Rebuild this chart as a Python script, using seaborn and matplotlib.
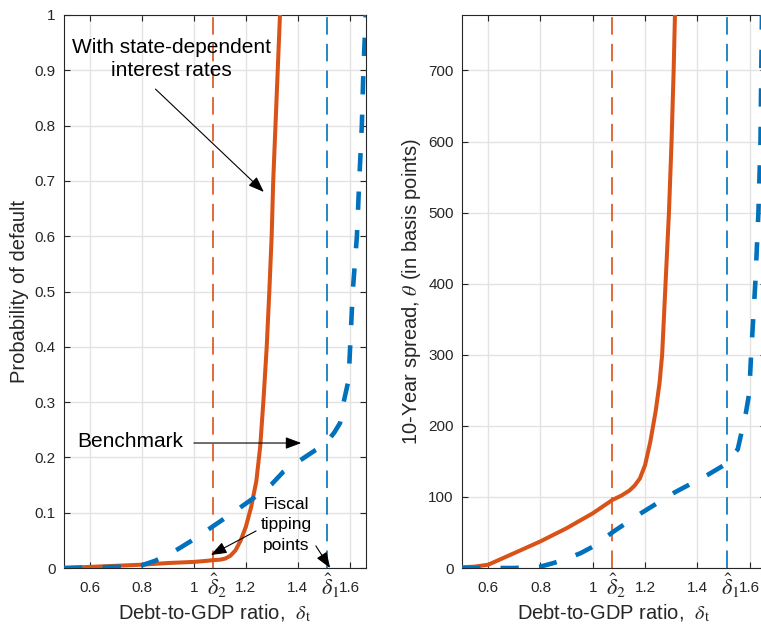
"""Probability of default and 10-year spread vs debt-to-GDP ratio."""

import matplotlib

matplotlib.use("Agg")
import matplotlib.pyplot as plt
import matplotlib.transforms as mtransforms
import seaborn as sns
from matplotlib.ticker import FuncFormatter

# Fiscal tipping points
DELTA_2 = 1.075
DELTA_1 = 1.512

# Left panel: probability of default
pd_state_x = [0.5, 0.6, 0.7, 0.8, 0.9, 1.0, 1.05, 1.08, 1.1, 1.12, 1.14, 1.16, 1.18,
              1.2, 1.22, 1.24, 1.255, 1.267, 1.28, 1.29, 1.299, 1.305, 1.318, 1.331, 1.336]
pd_state_y = [0.0, 0.002, 0.004, 0.006, 0.009, 0.011, 0.013, 0.0145, 0.015, 0.017,
              0.022, 0.032, 0.05, 0.075, 0.11, 0.157, 0.22, 0.30, 0.40, 0.50, 0.60,
              0.70, 0.85, 1.0, 1.05]

pd_bench_x = [0.5, 0.7, 0.8, 0.85, 0.9, 0.945, 1.0, 1.05, 1.1, 1.15, 1.228, 1.3, 1.344,
              1.4, 1.467, 1.5, 1.517, 1.54, 1.562, 1.575, 1.595, 1.601, 1.611, 1.627,
              1.636, 1.646, 1.652, 1.661, 1.668]
pd_bench_y = [0.0, 0.002, 0.005, 0.013, 0.024, 0.036, 0.052, 0.068, 0.084, 0.1, 0.126,
              0.152, 0.174, 0.192, 0.213, 0.222, 0.231, 0.245, 0.262, 0.298, 0.34, 0.4,
              0.5, 0.6, 0.7, 0.8, 0.9, 1.0, 1.03]

# Right panel: 10-year spread (basis points)
sp_state_x = [0.5, 0.55, 0.6, 0.7, 0.8, 0.9, 1.0, 1.076, 1.11, 1.14, 1.16, 1.18, 1.2,
              1.22, 1.24, 1.255, 1.265, 1.278, 1.291, 1.301, 1.309, 1.314, 1.316]
sp_state_y = [1, 2, 4.6, 21, 37.5, 56, 77, 96, 102, 109, 116, 126, 145, 178, 220, 260,
              300, 400, 500, 600, 700, 778, 800]

sp_bench_x = [0.5, 0.7, 0.8, 0.85, 0.9, 0.954, 1.0, 1.082, 1.184, 1.311, 1.439, 1.503,
              1.554, 1.585, 1.598, 1.605, 1.621, 1.633, 1.641, 1.644, 1.647]
sp_bench_y = [0, 0, 2, 7, 13, 21, 30, 52, 77, 106, 131, 145, 167, 218, 246, 300, 400,
              500, 600, 700, 790]

x_ticks = [0.6, 0.8, 1.0, 1.2, 1.4, 1.6]

ORANGE = "#D95319"
BLUE = "#0072BD"
INK = "#262626"

sns.set_theme(style="white")
plt.rcParams["font.family"] = ["Liberation Sans", "DejaVu Sans"]
plt.rcParams["mathtext.fontset"] = "stix"


def style_axes(ax, ylim, yticks):
    ax.set_xlim(0.5, 1.662)
    ax.set_ylim(*ylim)
    ax.set_xticks(x_ticks)
    ax.set_yticks(yticks)
    ax.xaxis.set_major_formatter(FuncFormatter(lambda v, _: f"{v:g}"))
    ax.yaxis.set_major_formatter(FuncFormatter(lambda v, _: f"{v:g}"))
    ax.grid(True, color="#e3e3e3", linewidth=1.0)
    ax.set_axisbelow(True)
    ax.tick_params(direction="in", length=4.5, width=0.8, color=INK,
                   labelcolor=INK, labelsize=11, top=True, right=True,
                   bottom=True, left=True)
    ax.tick_params(axis="x", pad=9)
    ax.tick_params(axis="y", pad=6)
    for sp in ax.spines.values():
        sp.set_color(INK)
        sp.set_linewidth(0.8)
    ax.set_xlabel(r"Debt-to-GDP ratio,  $\delta_{\rm t}$", fontsize=14.5,
                  color=INK, labelpad=6)
    trans = mtransforms.blended_transform_factory(ax.transData, ax.transAxes)
    for xv, lab in [(DELTA_2, r"$\hat{\delta}_2$"), (DELTA_1, r"$\hat{\delta}_1$")]:
        ax.axvline(xv, color=ORANGE if xv == DELTA_2 else BLUE, lw=1.2,
                   ls=(0, (10.5, 5.5)), zorder=1.5)
        ax.text(xv + 0.012, -0.007, lab, transform=trans, ha="center", va="top",
                fontsize=16, color=INK)


fig = plt.figure(figsize=(7.61, 6.27), dpi=100)
ax1 = fig.add_axes([64 / 761, 59 / 627, 302 / 761, 553 / 627])
ax2 = fig.add_axes([462 / 761, 59 / 627, 304 / 761, 553 / 627])

# Left panel
sns.lineplot(x=pd_state_x, y=pd_state_y, ax=ax1, color=ORANGE, lw=2.9,
             sort=False, zorder=3)
sns.lineplot(x=pd_bench_x, y=pd_bench_y, ax=ax1, color=BLUE, lw=3.3,
             ls=(0, (4.0, 4.4)), sort=False, zorder=4)
style_axes(ax1, (0, 1), [i / 10 for i in range(11)])
ax1.set_ylabel("Probability of default", fontsize=14.5, color=INK)

arrow = dict(arrowstyle="-|>,head_length=0.8,head_width=0.3", color="black",
             lw=0.8, shrinkA=0, shrinkB=0, mutation_scale=12)
ax1.text(0.914, 0.921, "With state-dependent\ninterest rates", ha="center",
         va="center", fontsize=15, linespacing=1.25, color="black", zorder=5)
ax1.annotate("", xy=(1.269, 0.68), xytext=(0.852, 0.866), arrowprops=arrow)
ax1.text(0.756, 0.228, "Benchmark", ha="center", va="center", fontsize=15,
         color="black", zorder=5)
ax1.annotate("", xy=(1.413, 0.226), xytext=(1.0, 0.226), arrowprops=arrow)
ax1.text(1.356, 0.078, "Fiscal\ntipping\npoints", ha="center", va="center",
         fontsize=12.5, linespacing=1.45, color="black", zorder=5)
ax1.annotate("", xy=(1.065, 0.0235), xytext=(1.239, 0.067), arrowprops=arrow)
ax1.annotate("", xy=(1.524, 0.0), xytext=(1.469, 0.040), arrowprops=arrow)

# Right panel
sns.lineplot(x=sp_state_x, y=sp_state_y, ax=ax2, color=ORANGE, lw=2.9,
             sort=False, zorder=3)
sns.lineplot(x=sp_bench_x, y=sp_bench_y, ax=ax2, color=BLUE, lw=3.3,
             ls=(0, (4.0, 4.4)), sort=False, zorder=4)
style_axes(ax2, (0, 778), list(range(0, 800, 100)))
ax2.set_ylabel(r"10-Year spread, $\theta$ (in basis points)", fontsize=14.5,
               color=INK)

fig.savefig("out.png", dpi=100)
